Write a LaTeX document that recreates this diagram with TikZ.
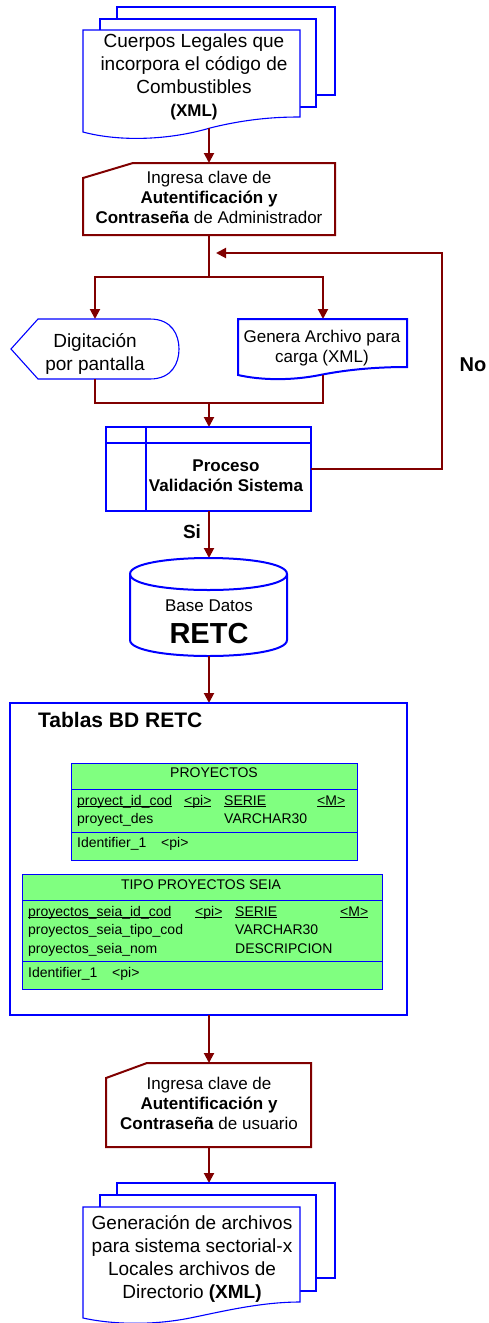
\documentclass[tikz,border=0pt]{standalone}
\usepackage{fontspec}
\setmainfont{Liberation Sans}
\usetikzlibrary{arrows.meta}
\definecolor{dred}{HTML}{800000}
\definecolor{bblue}{HTML}{0000FF}
\definecolor{tgreen}{HTML}{80FF80}
\newcommand\szbig{\fontsize{19}{23}\selectfont}
\newcommand\szmid{\fontsize{17}{20}\selectfont}
\newcommand\sztab{\fontsize{14}{18}\selectfont}
\newcommand\szdb{\fontsize{29}{32}\selectfont}
\newcommand\sztitle{\fontsize{21}{24}\selectfont}
\newcommand\szno{\fontsize{20}{24}\selectfont}
\newcommand\myul[1]{\setbox0\hbox{#1}\rlap{\rule[-2.4pt]{\wd0}{1.3pt}}\box0}
\tikzset{
  conn/.style={draw=dred, line width=2pt},
  arr/.style={conn, -{Triangle[width=10pt,length=10pt]}},
  redbox/.style={draw=dred, line width=2pt, fill=white},
  docthin/.style={draw=bblue, line width=1.1pt, fill=white},
  bluethick/.style={draw=bblue, line width=2pt, fill=white},
  tblbox/.style={draw=bblue, line width=1.4pt, fill=white},
  tbl/.style={draw=bblue, line width=1pt, fill=tgreen},
  tblline/.style={draw=bblue, line width=1pt},
  txt/.style={inner sep=0pt, align=center, text=black},
  tt/.style={inner sep=0pt, anchor=base west, font=\sztab},
}
\begin{document}
\begin{tikzpicture}[x=1pt,y=-1pt]
\useasboundingbox (0,0) rectangle (489,1323);

% ---------- top multi-document
\draw[docthin] (117,7) rectangle (335,95);
\draw[docthin] (100,19) rectangle (316,107);
\draw[docthin] (83,30) -- (300,30) -- (300,117) .. controls (280,117) and (250,118) .. (210,128) .. controls (170,140) and (120,142) .. (83,132) -- cycle;
\node[txt,font=\szbig] (doc1) at (194,77) {Cuerpos Legales que\\incorpora el código de\\Combustibles\\{\szmid\bfseries (XML)}};

% ---------- manual input 1
\draw[redbox] (83,178) -- (133,163) -- (335,163) -- (335,235) -- (83,235) -- cycle;
\node[txt,font=\szmid] (in1) at (209,197) {Ingresa clave de\\\textbf{Autentificación y}\\\textbf{Contraseña} de Administrador};

\coordinate (d1b) at (209,128);
\coordinate (in1t) at (209,163);
\draw[arr] (d1b) -- (in1t);

\coordinate (in1b) at (209,235);
\coordinate (split) at (209,277);
\coordinate (splitL) at (95,277);
\coordinate (splitR) at (323,277);
\coordinate (dispt) at (95,319);
\coordinate (gent) at (323,319);
\draw[conn] (in1b) -- (split);
\draw[arr] (split) -- (splitL) -- (dispt);
\draw[arr] (split) -- (splitR) -- (gent);

% ---------- display
\draw[docthin] (11,349) -- (38,319) -- (150,319) .. controls (172,319) and (179,335) .. (179,349) .. controls (179,363) and (172,379) .. (150,379) -- (38,379) -- cycle;
\node[txt,font=\szbig] (disp) at (95,354) {Digitación\\por pantalla};

% ---------- document Genera
\draw[bluethick] (238,319) -- (407,319) -- (407,367) .. controls (380,367) and (350,369) .. (320,375) .. controls (290,381) and (260,380) .. (238,375) -- cycle;
\node[txt,font=\szmid] (gen) at (322,348) {Genera Archivo para\\carga (XML)};

\coordinate (dispb) at (95,379);
\coordinate (genb) at (323,375);
\coordinate (joinL) at (95,403);
\coordinate (joinR) at (323,403);
\coordinate (join) at (209,403);
\coordinate (proct) at (209,427);
\draw[conn] (dispb) -- (joinL) -- (joinR) -- (genb);
\draw[arr] (join) -- (proct);

% ---------- process
\draw[bluethick] (106,427) rectangle (311,511);
\draw[bluethick] (106,443) -- (311,443) (146,427) -- (146,511);
\node[txt,font=\szmid\bfseries] (proc) at (226,476) {Proceso\\Validación Sistema};

\coordinate (procr) at (311,469);
\coordinate (fb1) at (442,469);
\coordinate (fb2) at (442,253);
\coordinate (fbend) at (216,253);
\draw[arr] (procr) -- (fb1) -- (fb2) -- (fbend);
\node[txt,font=\szno\bfseries] (no) at (473,365) {No};

\coordinate (procb) at (209,511);
\coordinate (dbt) at (209,558);
\draw[arr] (procb) -- (dbt);
\node[txt,font=\szbig\bfseries] (si) at (192,532) {Si};

% ---------- database
\draw[bluethick] (130,574) -- (130,640) .. controls (130,661.33) and (287,661.33) .. (287,640) -- (287,574) .. controls (287,552.67) and (130,552.67) .. (130,574) -- cycle;
\draw[bluethick,fill=none] (130,574) .. controls (130,595.33) and (287,595.33) .. (287,574);
\node[txt,font=\szmid] (dbl1) at (209,606) {Base Datos};
\node[txt,font=\szdb\bfseries] (dbl2) at (209,634) {RETC};

\coordinate (dbb) at (209,656);
\coordinate (tbt) at (209,703);
\draw[arr] (dbb) -- (tbt);

% ---------- tables box
\draw[tblbox] (10,703) rectangle (407,1015);
\node[inner sep=0pt,anchor=base west,font=\sztitle\bfseries] (ttl) at (38,727.5) {Tablas BD RETC};

% table PROYECTOS
\draw[tbl] (71,763) rectangle (357,860);
\draw[tblline] (71,789) -- (357,789) (71,832) -- (357,832);
\node[tt,anchor=base] (t1h) at (214,777) {PROYECTOS};
\node[tt] (t1a) at (77,805) {\myul{proyect\_id\_cod}};
\node[tt] (t1b) at (184,805) {\myul{<pi>}};
\node[tt] (t1c) at (224,805) {\myul{SERIE}};
\node[tt] (t1d) at (317,805) {\myul{<M>}};
\node[tt] (t1e) at (77,823) {proyect\_des};
\node[tt] (t1f) at (224,823) {VARCHAR30};
\node[tt] (t1g) at (77,847) {Identifier\_1};
\node[tt] (t1i) at (161,847) {<pi>};

% table TIPO PROYECTOS SEIA
\draw[tbl] (22,874) rectangle (382,989);
\draw[tblline] (22,900) -- (382,900) (22,961) -- (382,961);
\node[tt,anchor=base] (t2h) at (201,889) {TIPO PROYECTOS SEIA};
\node[tt] (t2a) at (28,916) {\myul{proyectos\_seia\_id\_cod}};
\node[tt] (t2b) at (195,916) {\myul{<pi>}};
\node[tt] (t2c) at (235,916) {\myul{SERIE}};
\node[tt] (t2d) at (340,916) {\myul{<M>}};
\node[tt] (t2e) at (28,934) {proyectos\_seia\_tipo\_cod};
\node[tt] (t2f) at (235,934) {VARCHAR30};
\node[tt] (t2g) at (28,953) {proyectos\_seia\_nom};
\node[tt] (t2i) at (235,953) {DESCRIPCION};
\node[tt] (t2j) at (28,977) {Identifier\_1};
\node[tt] (t2k) at (112,977) {<pi>};

\coordinate (tbb) at (209,1015);
\coordinate (in2t) at (209,1063);
\draw[arr] (tbb) -- (in2t);

% ---------- manual input 2
\draw[redbox] (106,1078) -- (147,1063) -- (311,1063) -- (311,1147) -- (106,1147) -- cycle;
\node[txt,font=\szmid] (in2) at (209,1103) {Ingresa clave de\\\textbf{Autentificación y}\\\textbf{Contraseña} de usuario};

\coordinate (in2b) at (209,1147);
\coordinate (d2t) at (209,1183);
\draw[arr] (in2b) -- (d2t);

% ---------- bottom multi-document
\draw[docthin] (117,1183) rectangle (335,1278);
\draw[docthin] (100,1195) rectangle (316,1291);
\draw[docthin] (83,1207) -- (300,1207) -- (300,1302) .. controls (260,1302) and (220,1312) .. (190,1318) .. controls (150,1326) and (110,1324) .. (83,1318) -- cycle;
\node[txt,font=\szbig] (doc2) at (192,1259) {Generación de archivos\\para sistema sectorial-x\\Locales archivos de\\Directorio \textbf{(XML)}};
\end{tikzpicture}
\end{document}
